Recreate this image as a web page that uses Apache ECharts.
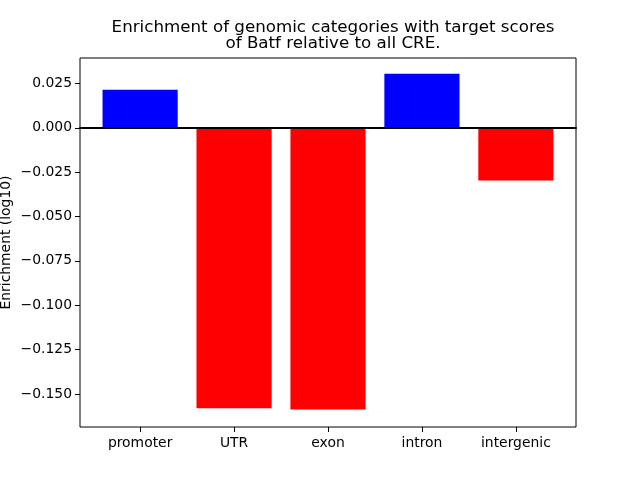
<!DOCTYPE html>
<html><head><meta charset="utf-8">
<script src="https://cdn.jsdelivr.net/npm/echarts@6/dist/echarts.min.js"></script>
<style>html,body{margin:0;padding:0;background:#fff}#c{width:640px;height:480px}</style>
</head><body><div id="c"></div>
<script>
const categories = ['promoter', 'UTR', 'exon', 'intron', 'intergenic'];
const values = [0.0214, -0.1581, -0.1587, 0.0304, -0.0297];
const yTicks = [-0.15, -0.125, -0.1, -0.075, -0.05, -0.025, 0, 0.025];
const yMin = -0.1686, yMax = 0.0393;
const titleText = 'Enrichment of genomic categories with target scores\nof Batf relative to all CRE.';
const yName = 'Enrichment (log10)';

const font = 'DejaVu Sans';
const fmt = v => (v < 0 ? '\u2212' : '') + Math.abs(v).toFixed(3);
// matplotlib-like x layout: bars of 0.8 width, 5% margins
const L = 80, R = 576, unit = (R - L) / 5.28;
const g1left = L + 0.64 * unit - unit / 2;
const g1right = 640 - (g1left + 5 * unit);

const chart = echarts.init(document.getElementById('c'), null, {renderer: 'canvas'});
chart.setOption({
  animation: false,
  backgroundColor: '#fff',
  title: {
    text: titleText, left: (L + R) / 2, textAlign: 'center', top: 15,
    textStyle: {fontFamily: font, fontSize: 16.7, fontWeight: 'normal', color: '#000', lineHeight: 16}
  },
  grid: [
    {left: L, right: 640 - R, top: 58, bottom: 53, show: true, borderColor: '#000', borderWidth: 1,
     backgroundColor: 'transparent', containLabel: false, outerBoundsMode: 'none'},
    {left: g1left, right: g1right, top: 58, bottom: 53, containLabel: false, outerBoundsMode: 'none'}
  ],
  xAxis: [
    {gridIndex: 0, type: 'value', min: 0, max: 1, axisLine: {onZero: true, lineStyle: {color: '#000', width: 2}},
     axisTick: {show: false}, axisLabel: {show: false}, splitLine: {show: false}, z: 5},
    {gridIndex: 1, type: 'category', data: categories, position: 'bottom',
     axisLine: {show: false, onZero: false}, axisTick: {show: true, alignWithLabel: true, length: 5, lineStyle: {color: '#000'}},
     axisLabel: {fontFamily: font, fontSize: 13.9, color: '#000', margin: 9}, splitLine: {show: false}}
  ],
  yAxis: [
    {gridIndex: 0, type: 'value', min: yMin, max: yMax, name: yName, nameLocation: 'middle', nameGap: 67,
     nameMoveOverlap: false,
     nameTextStyle: {fontFamily: font, fontSize: 13.9, color: '#000'},
     axisLine: {show: false}, splitLine: {show: false},
     axisTick: {show: true, length: 5, lineStyle: {color: '#000'}, customValues: yTicks},
     axisLabel: {fontFamily: font, fontSize: 13.9, color: '#000', margin: 8, customValues: yTicks, formatter: fmt}},
    {gridIndex: 1, type: 'value', min: yMin, max: yMax, show: false, splitLine: {show: false}}
  ],
  series: [{
    type: 'bar', xAxisIndex: 1, yAxisIndex: 1, barWidth: '80%',
    data: values.map(v => ({value: v, itemStyle: {color: v >= 0 ? '#0000ff' : '#ff0000'}})),
    z: 2
  }]
});
</script></body></html>
